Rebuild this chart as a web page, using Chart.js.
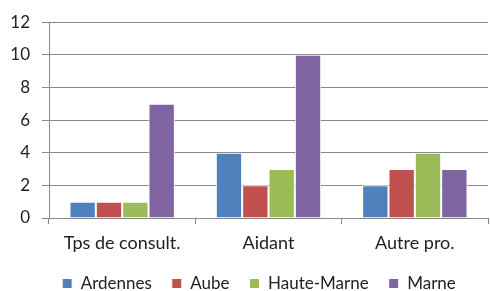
<!DOCTYPE html>
<html><head><meta charset="utf-8">
<script src="https://cdn.jsdelivr.net/npm/chart.js@4/dist/chart.umd.min.js"></script>
<style>html,body{margin:0;padding:0;background:#fff}#w{width:490px;height:291px}</style>
</head><body><div id="w"><canvas id="c"></canvas></div>
<script>
const categories = ["Tps de consult.", "Aidant", "Autre pro."];
const ardennes = [1, 4, 2];
const aube = [1, 2, 3];
const hauteMarne = [1, 3, 4];
const marne = [7, 10, 3];
const yTicks = [0, 2, 4, 6, 8, 10, 12];

const FONT = 'Lato, "Open Sans", sans-serif';
const mk = (label, data, color) => ({label, data, backgroundColor: color, borderColor: '#fff', borderWidth: 1,
  categoryPercentage: 0.72, barPercentage: 1.0});

const legendFix = {
  id: 'legendFix',
  beforeLayout(chart) {
    const lg = chart.legend;
    if (lg && !lg._patched) {
      const origFit = lg.fit.bind(lg);
      lg.fit = function() { origFit(); this.height = 36; };
      const origDraw = lg._draw.bind(lg);
      lg._draw = function() { const c = this.ctx; c.save(); c.translate(15, 0); origDraw(); c.restore(); };
      lg._patched = true;
    }
  }
};

new Chart(document.getElementById('c'), {
  type: 'bar',
  data: {labels: categories, datasets: [
    mk('Ardennes', ardennes, '#4F81BD'),
    mk('Aube', aube, '#C0504D'),
    mk('Haute-Marne', hauteMarne, '#9BBB59'),
    mk('Marne', marne, '#8064A2')
  ]},
  plugins: [legendFix],
  options: {
    responsive: true, maintainAspectRatio: false, animation: false,
    layout: {padding: {left: 0, right: 2, top: 20, bottom: 0}},
    plugins: {
      tooltip: {enabled: false},
      legend: {position: 'bottom', labels: {boxWidth: 10, boxHeight: 10, color: '#222', padding: 20,
        font: {family: FONT, size: 17}}}
    },
    scales: {
      x: {
        afterFit: s => { s.height = 37; },
        grid: {offset: true, drawOnChartArea: false, color: '#888', tickLength: 6},
        border: {color: '#888'},
        ticks: {color: '#222', padding: 8, font: {family: FONT, size: 18}}
      },
      y: {
        min: 0, max: 12,
        afterBuildTicks: s => { s.ticks = yTicks.map(v => ({value: v})); },
        afterFit: s => { s.width = 49; },
        grid: {color: '#888', tickLength: 7},
        border: {color: '#888'},
        ticks: {color: '#222', padding: 12, font: {family: FONT, size: 17}}
      }
    }
  }
});
</script></body></html>
